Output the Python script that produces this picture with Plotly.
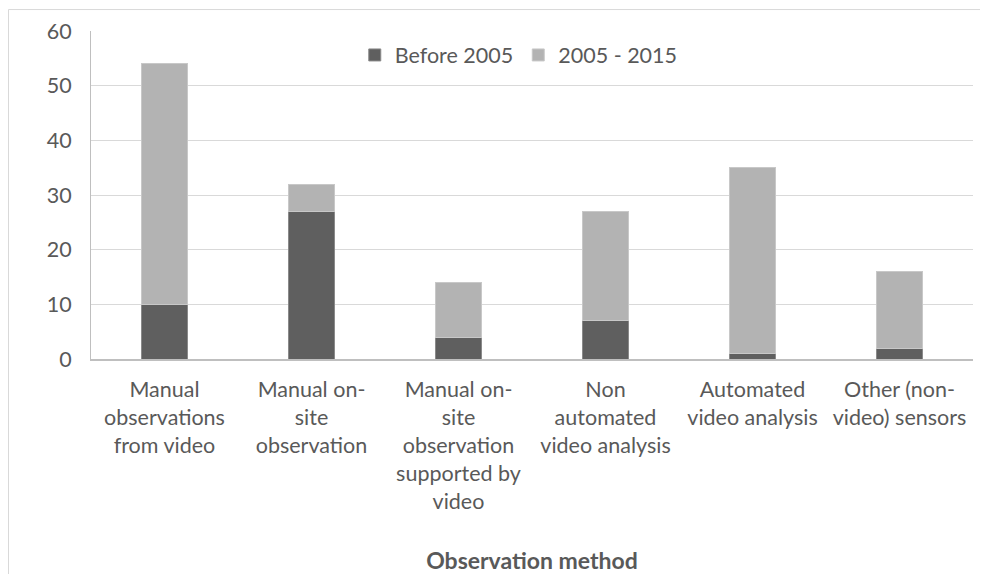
import plotly.graph_objects as go

categories = [
    "Manual<br>observations<br>from video",
    "Manual on-<br>site<br>observation",
    "Manual on-<br>site<br>observation<br>supported by<br>video",
    "Non<br>automated<br>video analysis",
    "Automated<br>video analysis",
    "Other (non-<br>video) sensors",
]
before_2005 = [10, 27, 4, 7, 1, 2]
from_2005_2015 = [44, 5, 10, 20, 34, 14]
y_ticks = [0, 10, 20, 30, 40, 50, 60]

FONT = "Lato, Open Sans, sans-serif"
TXT = "#595959"
FS = 21.5

fig = go.Figure()
fig.add_trace(go.Bar(name="Before 2005", x=categories, y=before_2005,
                     marker=dict(color="#5f5f5f", line=dict(color="#8a8a8a", width=1))))
fig.add_trace(go.Bar(name="2005 - 2015", x=categories, y=from_2005_2015,
                     marker=dict(color="#b3b3b3", line=dict(color="#c8c8c8", width=1))))

# page body has an 8px margin, so the figure is offset by 8px
W, H = 980, 566
L, R, T = 83, 15, 23
B = H - 351.5
pw, ph = W - L - R, H - T - B

fig.update_layout(
    barmode="stack",
    bargap=0.687,
    width=W, height=H,
    margin=dict(l=L, r=R, t=T, b=B, pad=0, autoexpand=False),
    paper_bgcolor="white", plot_bgcolor="white",
    font=dict(family=FONT, size=FS, color=TXT),
    showlegend=True,
    legend=dict(orientation="h", x=0.485, xanchor="center", y=1 - (47 - T) / ph, yanchor="middle",
                font=dict(family=FONT, size=FS, color=TXT), bgcolor="rgba(0,0,0,0)",
                itemwidth=30, traceorder="normal"),
    xaxis=dict(showgrid=False, showline=True, linecolor="#bfbfbf", linewidth=2, automargin=False,
               ticks="", ticklabelstandoff=10, tickfont=dict(family=FONT, size=FS, color=TXT),
               tickangle=0,
               title=dict(text="<b>Observation method</b>", font=dict(family=FONT, size=23, color=TXT),
                          standoff=40)),
    yaxis=dict(range=[0, 60], tickvals=y_ticks, showgrid=True, gridcolor="#d9d9d9", gridwidth=1,
               showline=True, linecolor="#bfbfbf", linewidth=1, zeroline=False, automargin=False,
               ticks="", ticklabelstandoff=14, tickfont=dict(family=FONT, size=FS, color=TXT)),
    shapes=[
        dict(type="line", xref="paper", yref="paper",
             x0=(0.5 - L) / pw, x1=(W + 10 - L) / pw,
             y0=1 + (T - 1.5) / ph, y1=1 + (T - 1.5) / ph,
             line=dict(color="#d9d9d9", width=1)),
        dict(type="line", xref="paper", yref="paper",
             x0=(0.5 - L) / pw, x1=(0.5 - L) / pw,
             y0=1 + (T - 1.5) / ph, y1=-(B + 10) / ph,
             line=dict(color="#d9d9d9", width=1)),
    ],
)

fig.write_html("out.html")
